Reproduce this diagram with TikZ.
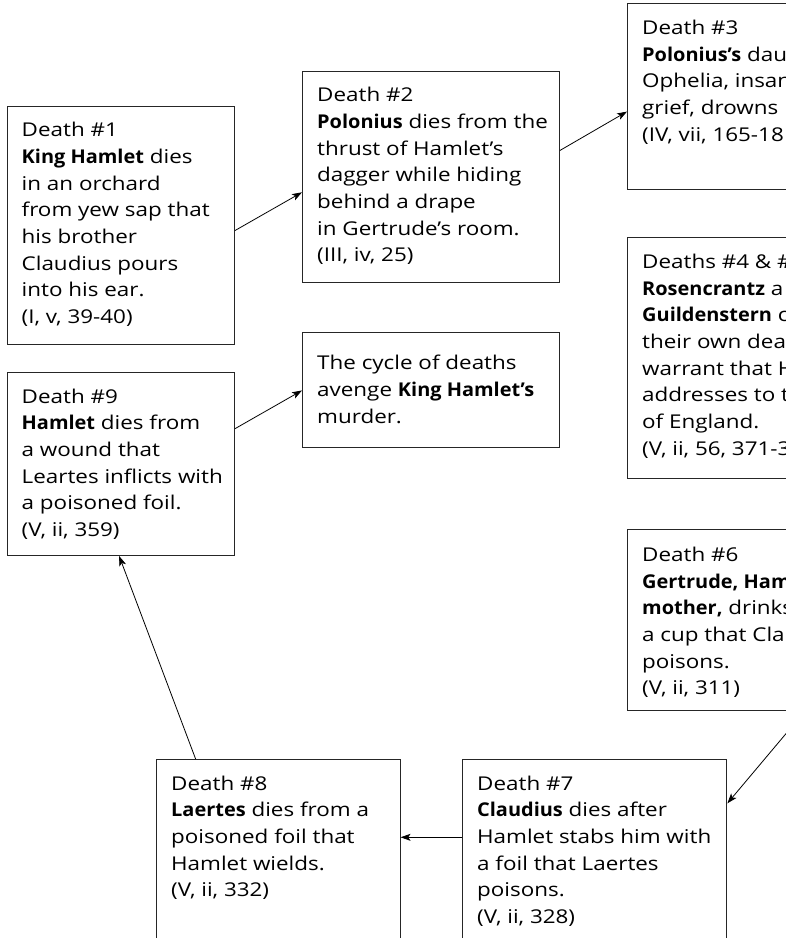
\documentclass[tikz,border=0pt]{standalone}
\usepackage{fontspec}
\setmainfont{Open Sans}[FakeStretch=1.18,BoldFeatures={FakeStretch=1.05}]
\usetikzlibrary{arrows.meta,calc}
\begin{document}
\begin{tikzpicture}[x=1pt,y=-1pt,
  box/.style={draw=black!85,line width=1pt,inner sep=0pt,anchor=north west},
  txt/.style={inner sep=0pt,anchor=north west,align=left,
    font=\fontsize{19}{26.67}\selectfont},
  arr/.style={draw=black,line width=0.8pt,-{Stealth[length=10pt,width=7pt,inset=2.5pt]}}]
\useasboundingbox[fill=white] (0,0) rectangle (786,938);
\newcommand{\fl}{\rule{0pt}{16pt}}
% boxes
\node[box,minimum width=227.5pt,minimum height=238.6pt] (b1) at (6.5,105.7) {};
\node[box,minimum width=257pt,minimum height=211.6pt] (b2) at (302,70.7) {};
\node[box,minimum width=257pt,minimum height=186pt] (b3) at (627,3.3) {};
\node[box,minimum width=257pt,minimum height=240.7pt] (b45) at (627,237.3) {};
\node[box,minimum width=257pt,minimum height=115.6pt] (bc) at (302,331.7) {};
\node[box,minimum width=227.5pt,minimum height=183pt] (b9) at (6.5,372) {};
\node[box,minimum width=257pt,minimum height=180.7pt] (b6) at (627,529.3) {};
\node[box,minimum width=264.4pt,minimum height=241pt] (b7) at (462,759) {};
\node[box,minimum width=243.6pt,minimum height=241pt] (b8) at (156,759) {};
% texts
\node[txt] (t1) at ([shift={(15,15)}]b1.north west)
 {\fl Death \#1\\ \textbf{King Hamlet} dies\\ in an orchard\\ from yew sap that\\ his brother\\ Claudius pours\\ into his ear.\\ (I, v, 39-40)};
\node[txt] (t2) at ([shift={(15,15)}]b2.north west)
 {\fl Death \#2\\ \textbf{Polonius} dies from the\\ thrust of Hamlet's\\ dagger while hiding\\ behind a drape\\ in Gertrude's room.\\ (III, iv, 25)};
\node[txt] (t3) at ([shift={(15,15)}]b3.north west)
 {\fl Death \#3\\ \textbf{Polonius's} dau\\ Ophelia, insan\\ grief, drowns\\ (IV, vii, 165-18};
\node[txt] (t45) at ([shift={(15,15)}]b45.north west)
 {\fl Deaths \#4 \& \#\\ \textbf{Rosencrantz} a\\ \textbf{Guildenstern} c\\ their own dea\\ warrant that H\\ addresses to th\\ of England.\\ (V, ii, 56, 371-3};
\node[txt] (tc) at ([shift={(15,22)}]bc.north west)
 {\fl The cycle of deaths\\ avenge \textbf{King Hamlet's}\\ murder.};
\node[txt] (t9) at ([shift={(15,15)}]b9.north west)
 {\fl Death \#9\\ \textbf{Hamlet} dies from\\ a wound that\\ Leartes inflicts with\\ a poisoned foil.\\ (V, ii, 359)};
\node[txt] (t6) at ([shift={(15,16)}]b6.north west)
 {\fl Death \#6\\ \textbf{Gertrude, Ham}\\ \textbf{mother,} drinks\\ a cup that Cla\\ poisons.\\ (V, ii, 311)};
\node[txt] (t7) at ([shift={(15,15)}]b7.north west)
 {\fl Death \#7\\ \textbf{Claudius} dies after\\ Hamlet stabs him with\\ a foil that Laertes\\ poisons.\\ (V, ii, 328)};
\node[txt] (t8) at ([shift={(15,15)}]b8.north west)
 {\fl Death \#8\\ \textbf{Laertes} dies from a\\ poisoned foil that\\ Hamlet wields.\\ (V, ii, 332)};
% connectors
\draw[arr] ($(b1.north east)!0.521!(b1.south east)$) -- ($(b2.north west)!0.572!(b2.south west)$);
\draw[arr] ($(b2.north east)!0.375!(b2.south east)$) -- ($(b3.north west)!0.579!(b3.south west)$);
\draw[arr] ($(b9.north east)!0.308!(b9.south east)$) -- ($(bc.north west)!0.504!(bc.south west)$);
\draw[arr] ($(b8.north west)!0.162!(b8.north east)$) -- ($(b9.south west)!0.493!(b9.south east)$);
\draw[arr] ($(b7.north west)+(0,78.3)$) -- ($(b8.north east)+(0,78.3)$);
\draw[arr] ($(b6.south west)!0.69!(b6.south east)$) -- ($(b7.north east)+(0,44.3)$);
\end{tikzpicture}
\end{document}
